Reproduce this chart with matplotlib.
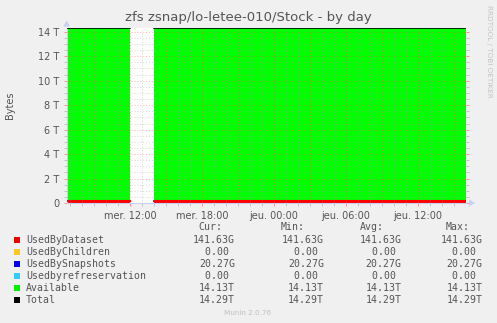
import numpy as np
import matplotlib
matplotlib.use("Agg")
import matplotlib.pyplot as plt
from matplotlib.ticker import FixedLocator, MultipleLocator

# ---------------- data ----------------
T = 1e12
G = 1e9
# hours since "mer. 00:00"; NaN marks the data gap
hours = [6.7, 11.95, 11.95, 13.98, 13.98, 40.0]
used_by_dataset = [141.63 * G, 141.63 * G, np.nan, np.nan, 141.63 * G, 141.63 * G]
used_by_children = [0.0, 0.0, np.nan, np.nan, 0.0, 0.0]
used_by_snapshots = [20.27 * G, 20.27 * G, np.nan, np.nan, 20.27 * G, 20.27 * G]
used_by_refreservation = [0.0, 0.0, np.nan, np.nan, 0.0, 0.0]
available = [14.13 * T, 14.13 * T, np.nan, np.nan, 14.13 * T, 14.13 * T]
total = [14.29 * T, 14.29 * T, np.nan, np.nan, 14.29 * T, 14.29 * T]

x_tick_pos = [12, 18, 24, 30, 36]
x_tick_labels = ["mer. 12:00", "mer. 18:00", "jeu. 00:00", "jeu. 06:00", "jeu. 12:00"]
y_ticks = [0, 2 * T, 4 * T, 6 * T, 8 * T, 10 * T, 12 * T, 14 * T]
y_tick_labels = ["0", "2 T", "4 T", "6 T", "8 T", "10 T", "12 T", "14 T"]

legend_names = ["UsedByDataset", "UsedByChildren", "UsedBySnapshots",
                "Usedbyrefreservation", "Available", "Total"]
legend_colors = ["#EA0000", "#F8C824", "#0000EE", "#33CCFF", "#00EE00", "#000000"]
cur_vals = ["141.63G", "0.00 ", "20.27G", "0.00 ", "14.13T", "14.29T"]
min_vals = ["141.63G", "0.00 ", "20.27G", "0.00 ", "14.13T", "14.29T"]
avg_vals = ["141.63G", "0.00 ", "20.27G", "0.00 ", "14.13T", "14.29T"]
max_vals = ["141.63G", "0.00 ", "20.27G", "0.00 ", "14.13T", "14.29T"]

# ---------------- figure ----------------
W, H = 497, 323
fig = plt.figure(figsize=(W / 100, H / 100), dpi=100, facecolor="#F0F0F0")

left, right, top, bottom = 66.7, 466.0, 27.5, 203.0
ax = fig.add_axes([left / W, 1 - bottom / H, (right - left) / W, (bottom - top) / H])
ax.set_facecolor("white")

x = np.array(hours)
d = np.array(used_by_dataset)
c = np.array(used_by_children)
s = np.array(used_by_snapshots)
r = np.array(used_by_refreservation)
a = np.array(available)
tt = np.array(total)

stack_cols = ["#FF0000", "#FFCC00", "#0000FF", "#00CCFF", "#00FF00"]
cum = np.zeros_like(d)
for vals, col in zip([d, c, s, r, a], stack_cols):
    new = cum + vals
    ax.fill_between(x, cum, new, color=col, linewidth=0, zorder=2)
    cum = new
ax.plot(x, d, color="#FF0000", linewidth=1.5, zorder=3)
ax.plot(x, tt, color="#000000", linewidth=1.2, zorder=4)

ax.set_xlim(6.7, 40.0)
ax.set_ylim(0, 14.35 * T)

# grid (drawn over the data like rrdtool)
dots = (0, (1, 2))
for h in np.arange(7, 40, 1):
    if h % 3 == 0:
        continue
    ax.axvline(h, color="#A0A0A0", lw=0.7, ls=dots, zorder=5, alpha=0.45)
for yv in np.arange(0.5, 14.5, 0.5):
    if yv % 2 == 0:
        continue
    ax.axhline(yv * T, color="#A0A0A0", lw=0.7, ls=dots, zorder=5, alpha=0.45)
for h in range(9, 40, 3):
    ax.axvline(h, color="#FF5050", lw=0.7, ls=dots, zorder=5, alpha=0.45)
for yv in range(2, 15, 2):
    ax.axhline(yv * T, color="#FF5050", lw=0.7, ls=dots, zorder=5, alpha=0.45)

ax.xaxis.set_major_locator(FixedLocator(x_tick_pos))
ax.set_xticklabels(x_tick_labels)
ax.xaxis.set_minor_locator(FixedLocator(list(range(7, 40))))
ax.yaxis.set_major_locator(FixedLocator(y_ticks))
ax.set_yticklabels(y_tick_labels)
ax.yaxis.set_minor_locator(MultipleLocator(0.5 * T))

ax.tick_params(axis="both", which="major", labelsize=7, labelcolor="#555555",
               color="#FF9090", length=2.5, width=0.7, direction="out")
ax.tick_params(axis="both", which="minor", color="#BBBBBB", length=2, width=0.6,
               direction="out")
ax.tick_params(axis="y", which="both", right=True, pad=3)
ax.tick_params(axis="x", which="both", pad=3)

for sp in ["top", "right"]:
    ax.spines[sp].set_visible(False)
for sp in ["left", "bottom"]:
    ax.spines[sp].set_color("#C8D0F8")
    ax.spines[sp].set_linewidth(0.8)

# axis arrows
fig.patches.append(plt.Polygon([[(right + 3) / W, 1 - (bottom - 3.5) / H],
                                [(right + 3) / W, 1 - (bottom + 3.5) / H],
                                [(right + 9) / W, 1 - bottom / H]],
                               closed=True, transform=fig.transFigure,
                               facecolor="#C8D0F8", edgecolor="none"))
fig.patches.append(plt.Polygon([[(left - 3.5) / W, 1 - (top - 1) / H],
                                [(left + 3.5) / W, 1 - (top - 1) / H],
                                [left / W, 1 - (top - 7) / H]],
                               closed=True, transform=fig.transFigure,
                               facecolor="#C8D0F8", edgecolor="none"))

# texts
fig.text(248.5 / W, 1 - 18 / H, "zfs zsnap/lo-letee-010/Stock - by day",
         ha="center", va="center", fontsize=9.5, color="#555555")
fig.text(10 / W, 1 - 105 / H, "Bytes", rotation=90, ha="center", va="center",
         fontsize=7, color="#555555")
fig.text(489 / W, 1 - 5 / H, "RRDTOOL / TOBI OETIKER", rotation=-90,
         ha="center", va="top", fontsize=5.2, color="#C4C4C4")
fig.text(248 / W, 1 - 313 / H, "Munin 2.0.76", ha="center", va="center",
         fontsize=5.2, color="#C0C0C0")

mono = "DejaVu Sans Mono"
fs = 7.1
tc = "#555555"
hy = 227.3
for txt, xr in [("Cur:", 222), ("Min:", 305), ("Avg:", 383.5), ("Max:", 470)]:
    fig.text(xr / W, 1 - hy / H, txt, ha="right", va="center", family=mono,
             fontsize=fs, color=tc)
for i, name in enumerate(legend_names):
    yy = 239.7 + 12 * i
    fig.patches.append(plt.Rectangle((14 / W, 1 - (yy + 3) / H), 6 / W, 6 / H,
                                     transform=fig.transFigure,
                                     facecolor=legend_colors[i], edgecolor="none"))
    fig.text(26 / W, 1 - yy / H, name, ha="left", va="center", family=mono,
             fontsize=fs, color=tc)
    for vals, xr in [(cur_vals, 235), (min_vals, 324), (avg_vals, 401.5), (max_vals, 482.3)]:
        fig.text(xr / W, 1 - yy / H, vals[i], ha="right", va="center", family=mono,
                 fontsize=fs, color=tc)

fig.savefig("out.png", dpi=100, facecolor=fig.get_facecolor())
